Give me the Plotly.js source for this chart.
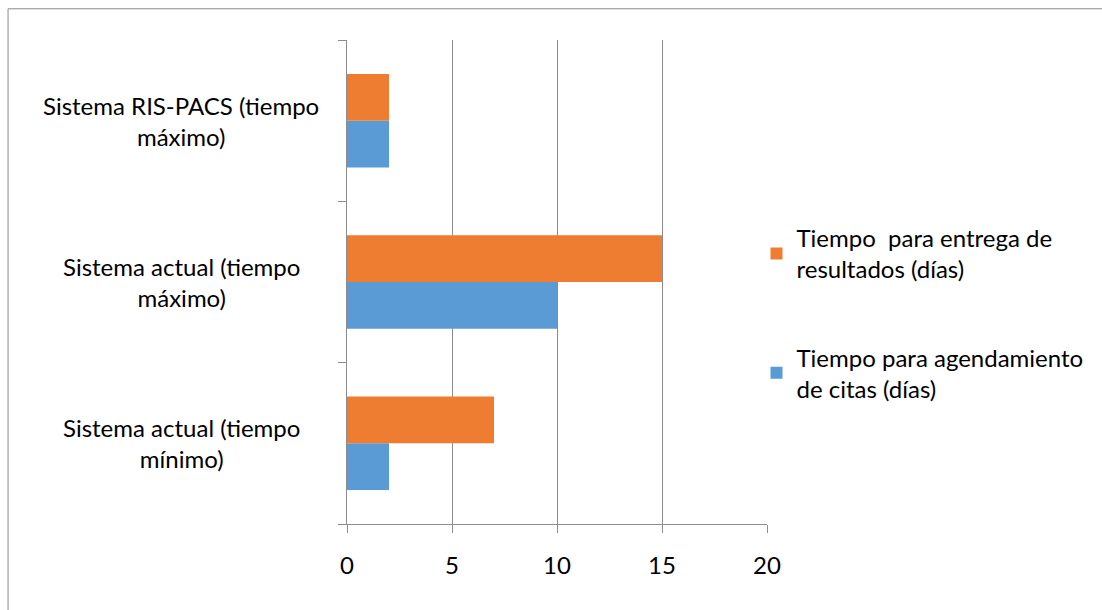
<!DOCTYPE html>
<html>
<head>
<meta charset="utf-8">
<script src="https://cdn.plot.ly/plotly-3.0.1.min.js"></script>
<style>html,body{margin:0;padding:0;background:#fff;}#chart{width:1102px;height:610px;}</style>
</head>
<body>
<div id="chart"></div>
<script>
var categories = ["Sistema actual (tiempo<br>mínimo)", "Sistema actual (tiempo<br>máximo)", "Sistema RIS-PACS (tiempo<br>máximo)"];
var agendamiento = [2, 10, 2];
var entrega = [7, 15, 2];
var seriesNames = ["Tiempo para agendamiento<br>de citas (días)", "Tiempo  para entrega de<br>resultados (días)"];
var xTicks = [0, 5, 10, 15, 20];

var FONT = "Lato, Open Sans, sans-serif";
var FS = 24;

var traces = [
  {type: "bar", orientation: "h", y: categories, x: agendamiento, name: seriesNames[0],
   legendgroup: "a", legendrank: 2, marker: {color: "#5B9BD5"}, hoverinfo: "x"},
  {type: "bar", orientation: "h", y: categories, x: entrega, name: seriesNames[1],
   legendgroup: "b", legendrank: 1, marker: {color: "#EE7D31"}, hoverinfo: "x"}
];

var annotations = categories.map(function(c){
  return {xref: "paper", yref: "y", x: -0.395, y: c, text: c, showarrow: false,
    xanchor: "center", yanchor: "middle", align: "center",
    font: {family: FONT, size: FS, color: "#000"}};
});

var layout = {
  width: 1102, height: 610,
  margin: {l: 347, r: 335, t: 40, b: 86},
  paper_bgcolor: "#fff", plot_bgcolor: "#fff",
  barmode: "group", bargap: 0.42, bargroupgap: 0,
  font: {family: FONT, size: FS, color: "#000"},
  xaxis: {range: [0, 20], tickvals: xTicks, ticktext: xTicks.map(String),
    showgrid: true, gridcolor: "#8c8c8c", gridwidth: 1, zeroline: false,
    showline: true, linecolor: "#8c8c8c", linewidth: 1,
    ticks: "outside", ticklen: 8, tickcolor: "#8c8c8c",
    ticklabelstandoff: 12, tickfont: {family: FONT, size: FS, color: "#000"}, fixedrange: true},
  yaxis: {type: "category", showticklabels: false, tickson: "boundaries",
    ticks: "outside", ticklen: 8, tickcolor: "#8c8c8c",
    showline: true, linecolor: "#8c8c8c", linewidth: 1, showgrid: false, zeroline: false, fixedrange: true},
  showlegend: true,
  legend: {x: 0.975, xanchor: "left", y: 0.637, yanchor: "top", traceorder: "grouped",
    tracegroupgap: 54, font: {family: FONT, size: FS, color: "#000"}, itemwidth: 30,
    bgcolor: "rgba(0,0,0,0)"},
  annotations: annotations,
  shapes: [
    {type: "line", xref: "paper", yref: "paper", x0: -0.807, x1: 1.8, y0: 1.0645, y1: 1.0645,
     line: {color: "#8c8c8c", width: 1}},
    {type: "line", xref: "paper", yref: "paper", x0: -0.807, x1: -0.807, y0: -0.2, y1: 1.0645,
     line: {color: "#8c8c8c", width: 1}}
  ]
};

Plotly.newPlot("chart", traces, layout, {displayModeBar: false, staticPlot: true});
</script>
</body>
</html>
